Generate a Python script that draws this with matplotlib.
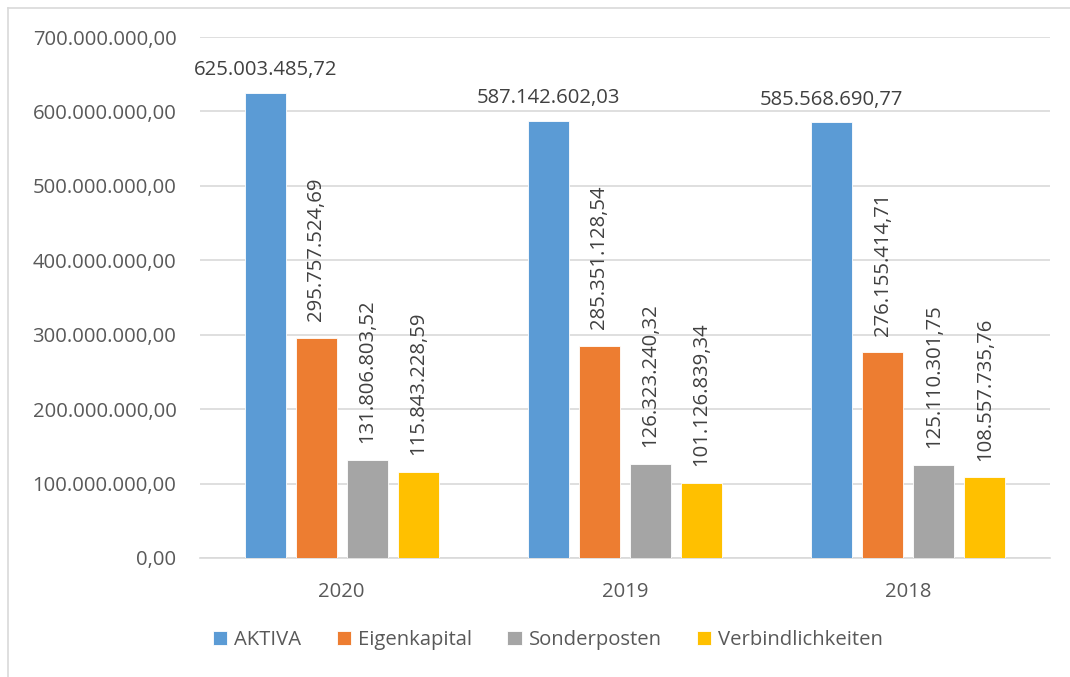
import matplotlib
matplotlib.use("Agg")
import matplotlib.pyplot as plt
from matplotlib.lines import Line2D
import numpy as np

years = ["2020", "2019", "2018"]
series_names = ["AKTIVA", "Eigenkapital", "Sonderposten", "Verbindlichkeiten"]
aktiva = [625003485.72, 587142602.03, 585568690.77]
eigenkapital = [295757524.69, 285351128.54, 276155414.71]
sonderposten = [131806803.52, 126323240.32, 125110301.75]
verbindlichkeiten = [115843228.59, 101126839.34, 108557735.76]
colors = ["#5B9BD5", "#ED7D31", "#A5A5A5", "#FFC000"]

def de_fmt(v):
    s = f"{v:,.2f}"
    return s.replace(",", "X").replace(".", ",").replace("X", ".")

plt.rcParams['font.family'] = ['Open Sans', 'DejaVu Sans']
txt = "#595959"
fs = 14.6

fig = plt.figure(figsize=(10.70, 6.77), dpi=100)
ax = fig.add_axes([200/1070, 1 - 558/677, 850/1070, (558-37)/677])

all_series = [aktiva, eigenkapital, sonderposten, verbindlichkeiten]
x = np.arange(len(years))
width = 0.145
step = 0.18
for i, (vals, name, c) in enumerate(zip(all_series, series_names, colors)):
    pos = x + (i - 1.5) * step
    ax.bar(pos, vals, width, color=c, edgecolor="white", linewidth=0.6, label=name, zorder=3)
    for p, v in zip(pos, vals):
        if i == 0:
            ax.annotate(de_fmt(v), (p, v), xytext=(0, 9), textcoords="offset points",
                        ha="center", va="bottom", fontsize=fs, color="#404040")
        else:
            ax.annotate(de_fmt(v), (p, v), xytext=(0, 12), textcoords="offset points",
                        ha="center", va="bottom", rotation=90, fontsize=fs, color="#404040")

ax.set_xlim(-0.5, 2.5)
ax.set_ylim(0, 700000000)
ticks = np.arange(0, 700000001, 100000000)
ax.set_yticks(ticks)
ax.set_yticklabels([de_fmt(v) for v in ticks])
ax.set_xticks(x)
ax.set_xticklabels(years)
ax.tick_params(axis="both", length=0, labelsize=fs, colors=txt)
ax.tick_params(axis="y", pad=17)
ax.tick_params(axis="x", pad=17)
ax.grid(axis="y", color="#D9D9D9", linewidth=1.2, zorder=0)
for s in ["top", "right", "left"]:
    ax.spines[s].set_visible(False)
ax.spines["bottom"].set_color("#D9D9D9")
ax.spines["bottom"].set_linewidth(1.2)

fig.legend(loc="center", bbox_to_anchor=(548/1070, 1 - 640/677), ncol=4, frameon=False,
           fontsize=fs, handlelength=0.7, handleheight=0.7, handletextpad=0.35,
           columnspacing=1.75, labelcolor=txt)

fig.add_artist(Line2D([8/1070, 1], [1 - 8/677, 1 - 8/677], transform=fig.transFigure,
                      color="#D9D9D9", linewidth=1.2))
fig.add_artist(Line2D([8/1070, 8/1070], [0, 1 - 8/677], transform=fig.transFigure,
                      color="#D9D9D9", linewidth=1.2))

fig.savefig("out.png", dpi=100)
